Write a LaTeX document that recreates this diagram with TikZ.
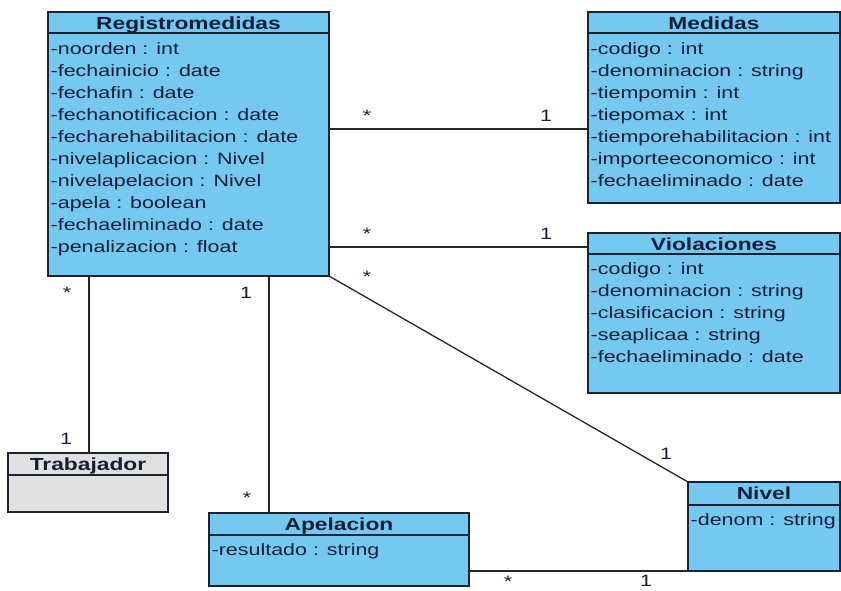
\documentclass[tikz,border=0pt]{standalone}
\usepackage{fontspec}
\setmainfont{Liberation Sans}[FakeStretch=1.3]
\definecolor{clsblue}{RGB}{117,200,240}
\definecolor{clsgray}{RGB}{224,224,224}
\definecolor{bord}{RGB}{25,35,50}
\definecolor{txt}{RGB}{20,30,55}
\newcommand{\umlattrs}[4]{%
  \foreach \t [count=\i from 0] in {#4} {\node[attr] (#1-a\i) at (#2, #3+22*\i) {\t};}}
\begin{document}
\begin{tikzpicture}[x=1pt,y=-1pt,
  cls/.style={draw=bord, line width=1.8pt, fill=clsblue, anchor=north west,
    inner sep=0pt, outer sep=0pt},
  graycls/.style={cls, fill=clsgray},
  sep/.style={draw=bord, line width=1.4pt},
  hdr/.style={anchor=base, inner sep=0pt, text=txt,
    font=\fontsize{17.5}{20}\selectfont\bfseries},
  attr/.style={anchor=base west, inner sep=0pt, text=txt,
    font=\fontsize{16.5}{22}\selectfont},
  mult/.style={anchor=base, inner sep=0pt, text=txt,
    font=\fontsize{16.5}{22}\selectfont},
  link/.style={draw=black!85, line width=1.3pt}]
\useasboundingbox (0,0) rectangle (841,590);

% Registromedidas
\node[cls, minimum width=281pt, minimum height=264pt] (reg) at (48,12) {};
\draw[sep] (reg.west |- 0,33) -- (reg.east |- 0,33);
\node[hdr] (reg-h) at (188.5,29) {Registromedidas};
\umlattrs{reg}{50.5}{54}{-noorden : int,-fechainicio : date,-fechafin : date,-fechanotificacion : date,-fecharehabilitacion : date,-nivelaplicacion : Nivel,-nivelapelacion : Nivel,-apela : boolean,-fechaeliminado : date,-penalizacion : float}

% Medidas
\node[cls, minimum width=252pt, minimum height=191pt] (med) at (588,12) {};
\draw[sep] (med.west |- 0,33) -- (med.east |- 0,33);
\node[hdr] (med-h) at (714,29) {Medidas};
\umlattrs{med}{590.5}{54}{-codigo : int,-denominacion : string,-tiempomin : int,-tiepomax : int,-tiemporehabilitacion : int,-importeeconomico : int,-fechaeliminado : date}

% Violaciones
\node[cls, minimum width=252pt, minimum height=160pt] (viol) at (588,233) {};
\draw[sep] (viol.west |- 0,254) -- (viol.east |- 0,254);
\node[hdr] (viol-h) at (714,250) {Violaciones};
\umlattrs{viol}{590.5}{274}{-codigo : int,-denominacion : string,-clasificacion : string,-seaplicaa : string,-fechaeliminado : date}

% Trabajador
\node[graycls, minimum width=160pt, minimum height=59pt] (trab) at (8,453) {};
\draw[sep] (trab.west |- 0,475) -- (trab.east |- 0,475);
\node[hdr] (trab-h) at (88,470) {Trabajador};

% Apelacion
\node[cls, minimum width=260pt, minimum height=73pt] (apel) at (209,513) {};
\draw[sep] (apel.west |- 0,535) -- (apel.east |- 0,535);
\node[hdr] (apel-h) at (339,530) {Apelacion};
\umlattrs{apel}{211.5}{555}{-resultado : string}

% Nivel
\node[cls, minimum width=152pt, minimum height=89pt] (niv) at (688,482) {};
\draw[sep] (niv.west |- 0,505) -- (niv.east |- 0,505);
\node[hdr] (niv-h) at (764,499) {Nivel};
\umlattrs{niv}{690.5}{525}{-denom : string}

% connectors
\draw[link] (reg.east |- 0,129) -- (med.west |- 0,129);
\draw[link] (reg.east |- 0,247) -- (viol.west |- 0,247);
\draw[link] (reg.south east) -- (niv.north west);
\draw[link] (reg.south -| 89,0) -- (trab.north -| 89,0);
\draw[link] (reg.south -| 269,0) -- (apel.north -| 269,0);
\draw[link] (apel.east |- niv.south west) -- (niv.south west);

% multiplicities
\node[mult] (m1a) at (367,121) {*};
\node[mult] (m1b) at (546,121) {1};
\node[mult] (m2a) at (367,239) {*};
\node[mult] (m2b) at (546,239) {1};
\node[mult] (m3a) at (367,282) {*};
\node[mult] (m3b) at (666,459) {1};
\node[mult] (m4a) at (67,298) {*};
\node[mult] (m4b) at (66,444) {1};
\node[mult] (m5a) at (246,298) {1};
\node[mult] (m5b) at (247,503) {*};
\node[mult] (m6a) at (508,587) {*};
\node[mult] (m6b) at (646,586) {1};
\end{tikzpicture}
\end{document}
